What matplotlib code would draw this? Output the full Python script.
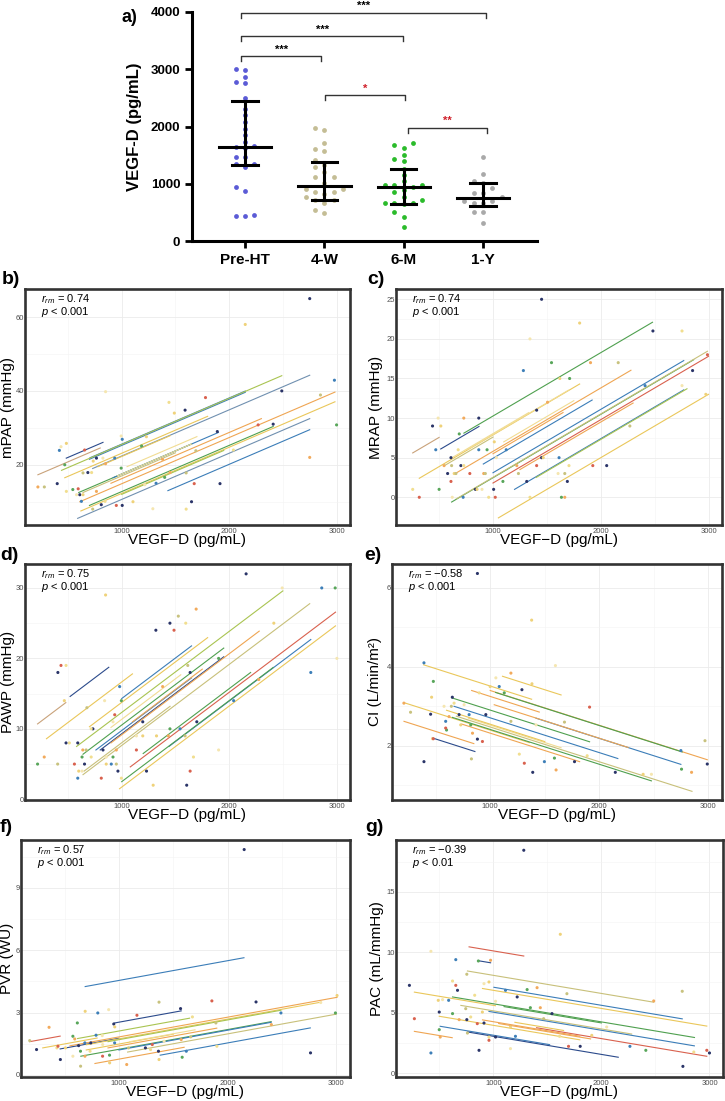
import numpy as np
import matplotlib
matplotlib.use("Agg")
import matplotlib.pyplot as plt

plt.rcParams['font.family'] = ['Liberation Sans', 'DejaVu Sans']
plt.rcParams['mathtext.fontset'] = 'custom'
plt.rcParams['mathtext.rm'] = 'Liberation Sans'
plt.rcParams['mathtext.it'] = 'Liberation Sans:italic'

W, H = 725, 1101

# ---------------- panel a: VEGF-D by time point ----------------
groups = ['Pre-HT', '4-W', '6-M', '1-Y']
vegf_pre = [3000, 2990, 2870, 2770, 2760, 2490, 2310, 2200, 2080, 1960, 1850, 1730,
            1650, 1660, 1620, 1470, 1460, 1350, 1340, 1290, 940, 870, 460, 440, 440]
vegf_4w = [1980, 1940, 1710, 1610, 1580, 1420, 1320, 1300, 1210, 1110, 1110, 1010,
           910, 910, 860, 860, 820, 770, 720, 710, 670, 550, 490]
vegf_6m = [1710, 1680, 1630, 1510, 1440, 1400, 1260, 1150, 1040, 980, 980, 980,
           950, 890, 850, 770, 720, 660, 660, 660, 650, 500, 420, 250]
vegf_1y = [1470, 1170, 1050, 1020, 920, 840, 840, 760, 700, 700, 660, 660, 510, 510, 310]
medians = [1650, 960, 940, 750]
q1 = [1325, 710, 650, 610]
q3 = [2440, 1385, 1265, 1015]

brk_left = [-0.05, -0.05, -0.05, 1.01, 2.05]
brk_right = [0.96, 1.99, 3.04, 2.01, 3.05]
brk_y = [3225, 3575, 3982, 2544, 1974]
brk_text = ['***', '***', '***', '*', '**']

# ---------------- panels b-g: repeated measures correlation ----------------
b_pts = [(2750, 65), (2150, 58), (850, 39.8), (2980, 42.9), (3000, 30.8), (2750, 22),
         (2850, 38.9), (2490, 40), (1440, 36.9), (1780, 38.2), (1590, 34.8), (1490, 34),
         (995, 27.8), (1005, 26.9), (1185, 25.1), (1380, 21.5), (1690, 23.8), (1890, 29),
         (2040, 24), (2270, 30.8), (2410, 31), (485, 25.8), (435, 24.9), (420, 23.9),
         (470, 20), (220, 14), (280, 14), (400, 14.9), (485, 12.8), (655, 24), (765, 21.8),
         (735, 21), (825, 21.8), (935, 21.8), (995, 19.1), (850, 20.3), (640, 17.8),
         (685, 17.9), (720, 17.9), (595, 13.5), (610, 11.9), (640, 11.9), (580, 11.9),
         (625, 10.1), (545, 13.3), (765, 12.8), (730, 8), (810, 9.2), (845, 10.1), (950, 9),
         (1005, 9), (1105, 10), (1290, 8.1), (1320, 15), (1400, 16.6), (1450, 17.9),
         (1600, 17.8), (1650, 10), (1600, 8), (1675, 14.9), (1915, 14.9), (1230, 27.6),
         (1215, 14.6)]
b_lines = [(484, 826, 21.8), (700, 2150, 21.5), (705, 2150, 21.9), (220, 800, 17.3),
           (440, 2490, 18.5), (730, 2750, 19.0), (470, 1800, 16.5), (600, 1650, 12.5),
           (920, 1900, 16.5), (610, 2985, 10.0), (590, 2750, 5.5), (620, 2985, 7.5),
           (1430, 2750, 13.0), (700, 2410, 9.0), (900, 2300, 15.0), (960, 1650, 17.0),
           (1000, 1950, 12.0), (640, 1500, 12.5), (1050, 1700, 19.5), (780, 1450, 19.5)]
b_slope = 0.0125

c_pts = [(1451, 25), (1804, 22), (1343, 20), (1282, 16), (1543, 17), (1905, 17), (2162, 17),
         (2484, 21), (2754, 21), (2990, 18), (2852, 16), (2975, 13), (2754, 14.1), (2411, 14.1),
         (1711, 15), (1506, 12), (2270, 9), (1405, 11), (255, 1), (316, 0), (439, 9), (516, 9),
         (491, 10), (469, 6), (500, 1), (546, 4), (616, 4), (610, 5), (677, 6), (610, 2),
         (579, 3), (640, 3), (622, 0), (723, 0), (687, 8), (729, 10), (656, 3), (702, 4),
         (729, 4), (785, 3), (837, 1), (852, 1), (898, 1), (868, 6), (945, 6), (914, 3),
         (929, 3), (868, 10), (960, 0), (1021, 0), (1006, 1), (1012, 7), (1031, 5), (1123, 6),
         (1092, 2), (1221, 4), (1236, 3), (1313, 2), (1343, 0), (1405, 4), (1451, 5), (1466, 5),
         (1604, 3), (1613, 5), (1635, 0), (1666, 0), (1666, 3), (1690, 2), (1705, 4), (1926, 4),
         (2055, 4), (1620, 15)]
c_lines = [(730, 2480, 8.1), (255, 500, 5.6), (515, 870, 6.1), (316, 1804, 2.4),
           (620, 1330, 5.0), (650, 2280, 3.0), (910, 1920, 4.2), (1000, 2770, 3.1),
           (616, 2862, -0.6), (660, 2990, -0.2), (1000, 3000, 1.8), (1200, 2770, 1.0),
           (1050, 3000, -2.6), (1000, 1650, 5.5), (1100, 1750, 7.0), (1250, 2300, 3.5),
           (550, 1000, 4.0), (760, 1700, 6.0), (1400, 2800, 2.5)]
c_slope = 0.0080

d_pts = [(2158, 32), (850, 29), (2494, 30), (2862, 30), (2987, 30), (1693, 27), (1527, 26),
         (1449, 25), (1596, 25), (1487, 24), (1318, 24), (2416, 25), (3003, 20), (2760, 18),
         (1902, 20), (2276, 17), (1615, 19), (1637, 18), (482, 19), (435, 19), (406, 18),
         (466, 14), (841, 14), (981, 16), (997, 14), (1381, 16), (676, 13), (732, 10), (716, 10),
         (935, 12), (1196, 11), (1196, 9), (1137, 9), (1543, 10), (1449, 10), (1434, 9),
         (1590, 9), (1699, 11), (1668, 6), (1637, 4), (1605, 2), (1293, 2), (1902, 7),
         (2042, 14), (217, 5), (279, 6), (404, 5), (482, 8), (513, 8), (560, 5), (591, 8),
         (600, 4), (631, 4), (591, 3), (631, 6), (638, 7), (669, 7), (654, 5), (716, 6),
         (810, 3), (826, 7), (856, 5), (856, 6), (903, 5), (919, 6), (950, 7), (950, 5),
         (965, 4), (997, 3), (1137, 7), (1231, 4), (1324, 9), (919, 11)]
d_lines = [(217, 480, 10.7), (520, 880, 14.6), (300, 1100, 8.6), (580, 2500, 7.5),
           (700, 1800, 10.3), (760, 1650, 7.0), (1000, 1650, 14.3), (640, 1950, 6.4),
           (800, 1950, 7.0), (900, 2280, 8.0), (640, 2750, 3.5), (980, 2990, 1.5),
           (1080, 2990, 4.6), (1440, 2760, 7.5), (1000, 2410, 2.5), (900, 1550, 10.2),
           (1100, 1750, 11.0), (650, 1450, 4.0), (1200, 2200, 6.5)]
d_slope = 0.0115

e_pts = [(883, 6.36), (1380, 5.18), (1598, 4.03), (393, 4.10), (479, 3.63), (209, 3.08),
         (270, 2.85), (393, 1.60), (471, 2.18), (479, 2.18), (454, 2.80), (463, 3.23),
         (577, 3.0), (592, 2.62), (600, 2.4), (623, 2.74), (644, 3.0), (653, 3.23), (669, 3.08),
         (592, 2.45), (715, 2.79), (730, 2.53), (761, 3.04), (807, 2.79), (822, 2.53),
         (838, 2.32), (828, 1.67), (883, 2.17), (899, 3.34), (929, 2.11), (960, 2.79),
         (1000, 3.5), (1052, 3.72), (1083, 3.5), (1129, 3.34), (1190, 3.84), (1190, 2.62),
         (1291, 3.42), (1267, 1.79), (1313, 1.56), (1390, 1.33), (1383, 3.57), (1420, 2.53),
         (1497, 1.60), (1589, 1.69), (1604, 1.39), (1681, 2.60), (1773, 1.60), (1889, 1.75),
         (1911, 2.98), (2147, 1.33), (2402, 1.28), (2478, 1.28), (2748, 1.88), (2754, 1.41),
         (2846, 1.33), (2969, 2.13), (2990, 1.54)]
e_lines = [(210, 850, 2.62), (224, 1360, 3.08), (390, 1380, 4.05), (470, 860, 2.2),
           (653, 1911, 3.21), (669, 2170, 3.0), (653, 2478, 2.72), (690, 2850, 2.75),
           (1000, 2990, 3.40), (1050, 2760, 3.35), (1420, 2748, 2.70), (830, 1450, 3.40),
           (1113, 1650, 3.76), (740, 1820, 2.55), (800, 1650, 2.70), (1037, 2264, 3.04),
           (600, 1500, 2.9)]
e_slope = -0.00088

f_pts = [(2152, 10.84), (690, 3.06), (906, 3.14), (806, 2.98), (618, 2.5), (358, 2.29),
         (1369, 3.50), (1567, 3.19), (1676, 2.79), (1855, 3.56), (2261, 3.51), (3006, 3.82),
         (2856, 3.48), (2490, 2.98), (2991, 2.98), (2402, 2.42), (1892, 2.5), (2762, 1.06),
         (1901, 1.38), (1166, 2.87), (953, 2.45), (962, 2.31), (847, 1.89), (790, 1.91),
         (577, 1.86), (594, 1.73), (180, 1.65), (243, 1.22), (430, 1.30), (440, 1.38),
         (462, 0.74), (509, 1.30), (577, 0.90), (687, 1.54), (647, 1.14), (688, 0.90),
         (648, 0.42), (630, 1.41), (735, 1.14), (850, 0.90), (742, 1.54), (915, 0.58),
         (851, 1.46), (961, 1.54), (914, 0.95), (1072, 0.50), (1088, 1.30), (1244, 1.30),
         (1291, 1.22), (1307, 1.46), (1364, 1.14), (1369, 0.74), (1416, 1.62), (1620, 1.14),
         (1582, 0.85), (1573, 1.70), (1660, 1.83)]
f_lines = [(690, 2150, 4.25), (180, 460, 1.60), (962, 1573, 2.50), (460, 1000, 1.25),
           (620, 1650, 1.75), (550, 3006, 1.4), (700, 2860, 1.45), (900, 2490, 1.6),
           (650, 2400, 0.9), (1080, 3000, 1.1), (1380, 2760, 0.95), (780, 1600, 0.55),
           (900, 1900, 1.3), (1000, 2400, 1.2), (700, 1500, 1.2), (300, 800, 1.3),
           (1100, 1700, 1.6)]
f_slope = 0.00095

g_pts = [(1282, 18.45), (1620, 11.49), (423, 10.08), (653, 9.39), (862, 9.28), (975, 9.34),
         (755, 8.18), (224, 7.26), (623, 7.62), (653, 7.26), (669, 6.85), (960, 7.54),
         (914, 7.40), (1113, 6.85), (1313, 6.91), (1405, 7.07), (1681, 6.57), (1221, 6.30),
         (828, 6.44), (270, 4.50), (500, 5.05), (491, 6.02), (531, 6.08), (587, 6.02),
         (623, 4.92), (684, 4.42), (745, 5.33), (755, 4.42), (791, 4.64), (852, 4.09),
         (914, 4.14), (899, 5.05), (1021, 5.94), (423, 1.66), (500, 3.59), (509, 2.98),
         (761, 3.31), (868, 1.88), (960, 2.98), (960, 2.71), (1021, 2.98), (1159, 3.81),
         (1159, 2.02), (1205, 3.04), (1343, 5.41), (1435, 5.41), (1466, 4.50), (1543, 4.92),
         (1613, 3.04), (1696, 2.21), (1804, 2.21), (1911, 3.12), (2049, 3.81), (2264, 2.21),
         (2411, 1.88), (2484, 5.97), (2748, 6.77), (2754, 0.55), (2855, 1.74), (2975, 1.88),
         (3000, 1.66)]
g_lines = [(776, 1282, 10.45), (862, 975, 9.3), (761, 2484, 8.45), (900, 2975, 7.0),
           (270, 1020, 6.7), (1006, 2748, 7.1), (623, 2861, 6.3), (700, 2280, 5.6),
           (960, 2860, 5.1), (1400, 2975, 3.75), (270, 620, 3.45), (509, 1521, 3.87),
           (761, 2156, 3.4), (500, 1800, 4.7), (900, 1800, 4.4), (1050, 1900, 4.1),
           (1100, 2000, 5.5), (1200, 1650, 4.2)]
g_slope = -0.0015

stat_r = ['0.74', '0.74', '0.75', '\u22120.58', '0.57', '\u22120.39']
stat_p = ['< 0.001', '< 0.001', '< 0.001', '< 0.001', '< 0.001', '< 0.01']
ylabels = ['mPAP (mmHg)', 'MRAP (mmHg)', 'PAWP (mmHg)', 'CI (L/min/m\u00b2)', 'PVR (WU)',
           'PAC (mL/mmHg)']

# ---------------- styles ----------------
group_colors = ['#5b5bd6', '#c4bd95', '#2bbb2b', '#a9a9a9']
pal = {'db': '#2b4a8b', 'b': '#3b7db8', 'gb': '#7090b0', 'g': '#4fa04f', 'yg': '#a9c451',
       'k': '#c8c07a', 'y': '#eac75a', 'py': '#f1dc93', 'o': '#efa552', 'r': '#d9614e',
       't': '#c9a27a'}
b_cols = ['db', 'b', 'b', 't', 'yg', 'gb', 'y', 'g', 'b', 'o', 'gb', 'y', 'b', 'g', 'o', 'py',
          'yg', 'k', 'py', 'y']
c_cols = ['g', 't', 'db', 'y', 'py', 'o', 'b', 'b', 'g', 'k', 'r', 'b', 'y', 'o', 'py', 'o',
          'k', 'py', 'yg']
d_cols = ['t', 'db', 'y', 'yg', 'y', 'b', 'b', 'g', 'db', 'o', 'k', 'y', 'r', 'b', 'g', 'py',
          'o', 'k', 'g']
e_cols = ['o', 'y', 'y', 'db', 'g', 'b', 'g', 'k', 'o', 'g', 'b', 'o', 'y', 'o', 'py', 'o', 'y']
f_cols = ['b', 'r', 'db', 'db', 'yg', 'o', 'y', 'yg', 'g', 'k', 'b', 'o', 'o', 'b', 'y', 'y', 'py']
g_cols = ['r', 'db', 'k', 'y', 'y', 'b', 'g', 'k', 'b', 'r', 'o', 'b', 'db', 'y', 'o', 'o', 'g', 'y']
pt_cycle = ['#2a3468', '#efd27a', '#f5e6b0', '#3d7fb8', '#58a65a', '#f2aa5c', '#c8c27e',
            '#2a3468', '#f1de8f', '#d9614e']


def rect(x0, y0, x1, y1):
    return [x0 / W, 1 - y1 / H, (x1 - x0) / W, (y1 - y0) / H]


def swarm(vals, center, d=0.118, gap=105):
    vals = np.asarray(vals, dtype=float)
    xs = np.zeros(len(vals))
    placed = []
    for i in np.argsort(vals):
        v = vals[i]
        for k in [0, -1, 1, -2, 2, -3, 3]:
            if all(abs(v - pv) >= gap for pk, pv in placed if pk == k):
                break
        placed.append((k, v))
        xs[i] = center + k * d
    return xs


fig = plt.figure(figsize=(W / 100, H / 100), dpi=100)

# ---- panel a ----
ax = fig.add_axes(rect(192, 12, 537, 241))
for i, vals in enumerate([vegf_pre, vegf_4w, vegf_6m, vegf_1y]):
    ax.scatter(swarm(vals, i), vals, s=12, color=group_colors[i], lw=0, zorder=2)
    ax.plot([i - 0.33, i + 0.33], [medians[i]] * 2, color='black', lw=2.2, zorder=3)
    ax.plot([i, i], [q1[i], q3[i]], color='black', lw=2.2, zorder=3)
    for q in (q1[i], q3[i]):
        ax.plot([i - 0.16, i + 0.16], [q, q], color='black', lw=2.2, zorder=3)
for l, r, y, t in zip(brk_left, brk_right, brk_y, brk_text):
    ax.plot([l, l, r, r], [y - 87, y, y, y - 87], color='#333333', lw=1, clip_on=False)
    col = 'black' if t == '***' else '#d0202a'
    ax.text((l + r) / 2, y + 120, t, ha='center', va='center', fontsize=8,
            fontweight='bold', color=col, clip_on=False)
ax.set_xlim(-0.67, 3.68)
ax.set_ylim(0, 4000)
ax.spines[['top', 'right']].set_visible(False)
for s in ('left', 'bottom'):
    ax.spines[s].set_linewidth(2.2)
ax.set_xticks(range(4))
ax.set_xticklabels(groups, fontsize=11, fontweight='bold')
ax.set_yticks([0, 1000, 2000, 3000, 4000])
ax.set_yticklabels(['0', '1000', '2000', '3000', '4000'], fontsize=9.5, fontweight='bold')
ax.tick_params(width=2, length=5)
ax.set_ylabel('VEGF-D (pg/mL)', fontsize=12, fontweight='bold', labelpad=6)
fig.text(122 / W, 1 - 17 / H, 'a)', fontsize=13, fontweight='bold', va='center')

# ---- panels b-g ----
panels = [
    (rect(25, 289, 350, 525), b_pts, b_lines, b_slope, b_cols, (3.7, 67.6), [20, 40, 60], [10, 30, 50], 'b)', (2, 279), -0.031),
    (rect(396, 289, 722, 525), c_pts, c_lines, c_slope, c_cols, (-3.5, 26.3), [0, 5, 10, 15, 20, 25], [2.5, 7.5, 12.5, 17.5, 22.5], 'c)', (367, 280), -0.04),
    (rect(25, 564, 350, 800), d_pts, d_lines, d_slope, d_cols, (-0.1, 33.4), [0, 10, 20, 30], [5, 15, 25], 'd)', (0, 556), -0.031),
    (rect(392, 564, 722, 800), e_pts, e_lines, e_slope, e_cols, (0.63, 6.6), [2, 4, 6], [1, 3, 5], 'e)', (364, 555), -0.03),
    (rect(21, 840, 350, 1077), f_pts, f_lines, f_slope, f_cols, (-0.1, 11.3), [0, 3, 6, 9], [1.5, 4.5, 7.5, 10.5], 'f)', (0, 828), -0.021),
    (rect(396, 840, 723, 1077), g_pts, g_lines, g_slope, g_cols, (-0.33, 19.3), [0, 5, 10, 15], [2.5, 7.5, 12.5, 17.5], 'g)', (365, 828), -0.036),
]

for n, (rc, pts, lines, slope, cols, ylim, yt, ymin, tag, tpos, ylx) in enumerate(panels):
    ax = fig.add_axes(rc)
    for (x0, x1, y0), c in zip(lines, cols):
        ax.plot([x0, x1], [y0, y0 + slope * (x1 - x0)], color=pal[c], lw=0.8, zorder=2)
    pts = np.array(pts)
    pc = [pt_cycle[i % len(pt_cycle)] for i in range(len(pts))]
    ax.scatter(pts[:, 0], pts[:, 1], s=5, c=pc, lw=0, zorder=3)
    ax.set_xlim(100, 3125)
    ax.set_ylim(*ylim)
    ax.set_xticks([1000, 2000, 3000])
    ax.set_xticks([500, 1500, 2500], minor=True)
    ax.set_yticks(yt)
    ax.set_yticks(ymin, minor=True)
    ax.grid(which='major', color='#ebebeb', lw=0.6)
    ax.grid(which='minor', color='#f3f3f3', lw=0.4)
    ax.set_axisbelow(True)
    ax.tick_params(which='both', length=0, labelsize=5.5, labelcolor='#4d4d4d')
    ax.tick_params(axis='x', pad=2)
    ax.tick_params(axis='y', pad=0.8)
    for s in ax.spines.values():
        s.set_linewidth(1.9)
        s.set_color('#333333')
    ax.set_xlabel('VEGF\u2212D (pg/mL)', fontsize=11, labelpad=-1)
    ax.set_ylabel(ylabels[n], fontsize=11)
    ax.yaxis.set_label_coords(ylx, 0.5)
    ax.text(0.05, 0.985, r'$r_{rm}$ = ' + stat_r[n] + '\n' + r'$p$ ' + stat_p[n],
            transform=ax.transAxes, va='top', ha='left', fontsize=8, linespacing=0.85)
    fig.text(tpos[0] / W, 1 - tpos[1] / H, tag, fontsize=14, fontweight='bold', va='center')

fig.savefig('out.png', dpi=100)
